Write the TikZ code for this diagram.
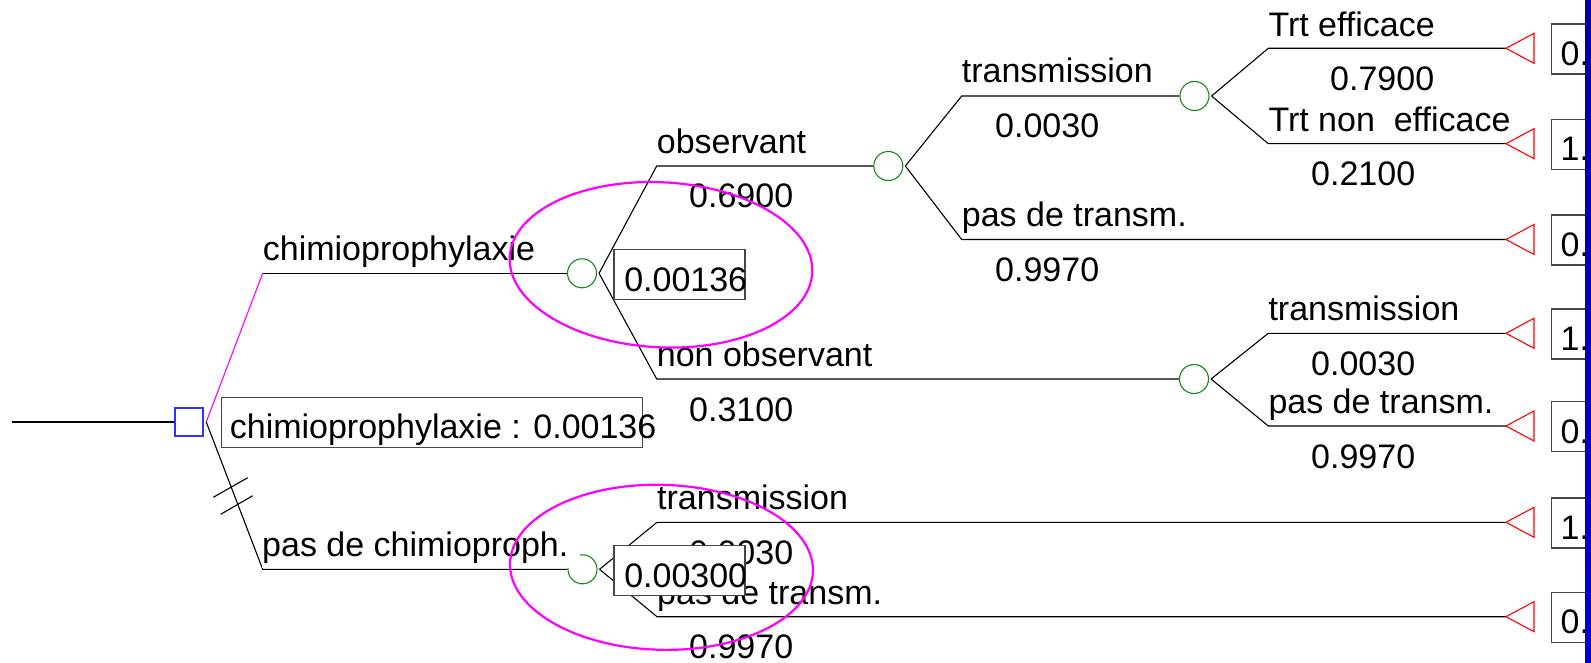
\documentclass[tikz,border=0pt]{standalone}
\usepackage{fontspec}
\setmainfont{Liberation Sans}
\newcommand\treefont{\fontsize{34}{40}\selectfont}
\definecolor{chgreen}{RGB}{20,140,20}
\definecolor{decblue}{RGB}{50,50,255}
\definecolor{boxgray}{RGB}{70,70,70}
\definecolor{bartop}{RGB}{0,0,150}
\definecolor{barbot}{RGB}{0,0,205}
\definecolor{hotmag}{RGB}{255,0,255}
\tikzset{
  ln/.style={line width=1.1pt, draw=black},
  chance/.style={circle, draw=chgreen, line width=1.1pt, minimum size=29pt, inner sep=0pt},
  decision/.style={rectangle, draw=decblue, line width=1.1pt, minimum size=28pt, inner sep=0pt},
  lbl/.style={anchor=base west, inner sep=0pt, font=\treefont},
  valbox/.style={draw=boxgray, line width=1.3pt, fill=white, anchor=north west, inner ysep=0pt, inner xsep=10pt, text height=41.5pt, text depth=8.5pt, font=\treefont},
  termtri/.style={draw=red, line width=1.1pt},
  ring/.style={draw=hotmag, line width=2.2pt},
}
\begin{document}
\begin{tikzpicture}[x=1pt, y=-1pt]
\useasboundingbox (0,0) rectangle (1591,663);
\clip (0,0) rectangle (1591,663);
\fill[white] (0,0) rectangle (1591,663);

% nodes
\coordinate (root) at (12,422);
\node[decision] (d) at (189,422) {};
\node[chance] (c1) at (582,273.3) {};
\node[chance] (c2) at (582.5,569.3) {};
\node[chance] (c3) at (888.3,166) {};
\node[chance] (c4) at (1194,379) {};
\node[chance] (c5) at (1194.5,96) {};

\coordinate (k1) at (262.7,273.3);
\coordinate (k2) at (262.7,569.3);
\coordinate (k3) at (656.7,166);
\coordinate (k4) at (656.7,379);
\coordinate (k5) at (961.7,96);
\coordinate (k6) at (961.7,239.5);
\coordinate (k7) at (1268.3,48.3);
\coordinate (k8) at (1268.3,143.7);
\coordinate (k9) at (1268.3,333.3);
\coordinate (k10) at (1268.3,426);
\coordinate (k11) at (657,522.3);
\coordinate (k12) at (657,616.7);

\coordinate (t1) at (1506,48.3);
\coordinate (t2) at (1506,143.7);
\coordinate (t3) at (1506,239.5);
\coordinate (t4) at (1506,333.3);
\coordinate (t5) at (1506,426);
\coordinate (t6) at (1506,522.3);
\coordinate (t7) at (1506,616.7);

% connectors
\draw[ln] (root) -- (d.west);
\draw[ln, draw=hotmag] ([xshift=2.7pt]d.east) -- (k1);
\draw[ln] (k1) -- (c1.west);
\draw[ln] ([xshift=2.7pt]d.east) -- (k2) -- (c2.west);
\draw[ln] (213.3,497.3) -- (247.7,477.7);
\draw[ln] (220.7,514.3) -- (252.7,495.7);

\draw[ln] ([xshift=2pt]c1.east) -- (k3) -- (c3.west);
\draw[ln] ([xshift=2pt]c1.east) -- (k4) -- (c4.west);
\draw[ln] ([xshift=2pt]c3.east) -- (k5) -- (c5.west);
\draw[ln] ([xshift=2pt]c3.east) -- (k6) -- (t3);
\draw[ln] ([xshift=2pt]c5.east) -- (k7) -- (t1);
\draw[ln] ([xshift=2pt]c5.east) -- (k8) -- (t2);
\draw[ln] ([xshift=2pt]c4.east) -- (k9) -- (t4);
\draw[ln] ([xshift=2pt]c4.east) -- (k10) -- (t5);
\draw[ln] ([xshift=2pt]c2.east) -- (k11) -- (t6);
\draw[ln] ([xshift=2pt]c2.east) -- (k12) -- (t7);

% terminal triangles
\foreach \t in {t1,t2,t3,t4,t5,t6,t7}
  \draw[termtri] (\t) -- ++(28,-15) -- ++(0,30) -- cycle;

% branch labels
\node[lbl] (l1) at (262.7,260.8) {chimioprophylaxie};
\node[lbl, fill=white, text depth=10.8pt] (l2) at (262,556.7) {\makebox[318pt][l]{pas de chimioproph.}};
\node[lbl] (l3) at (656.7,153.5) {observant};
\node[lbl] (p3) at (689,208) {0.6900};
\node[lbl] (l4) at (656.7,366.7) {non observant};
\node[lbl] (p4) at (689,421) {0.3100};
\node[lbl] (l5) at (961.7,83) {transmission};
\node[lbl] (p5) at (995,137.5) {0.0030};
\node[lbl] (l6) at (961.7,227) {pas de transm.};
\node[lbl] (p6) at (995,281) {0.9970};
\node[lbl] (l7) at (1268.3,36.5) {Trt efficace};
\node[lbl] (p7) at (1330,90.3) {0.7900};
\node[lbl] (l8) at (1268.3,131.2) {Trt non\ \ efficace};
\node[lbl] (p8) at (1311,185.7) {0.2100};
\node[lbl] (l9) at (1268.3,320.3) {transmission};
\node[lbl] (p9) at (1311,375) {0.0030};
\node[lbl] (l10) at (1268.3,413.5) {pas de transm.};
\node[lbl] (p10) at (1311,468) {0.9970};
\node[lbl] (l11) at (657,509.8) {transmission};
\node[lbl] (p11) at (689,564) {0.0030};
\node[lbl] (l12) at (657,604.2) {pas de transm.};
\node[lbl] (p12) at (689,658.5) {0.9970};

% value boxes
\node[valbox, inner xsep=8.5pt] (b0) at (220.7,396.7) {\makebox[404pt][l]{chimioprophylaxie : 0.00136}};
\node[valbox, inner xsep=10.3pt] (b1) at (613.3,249) {\makebox[110.4pt][l]{0.00136}};
\node[valbox, inner xsep=10.3pt] (b2) at (613.3,545) {\makebox[110.4pt][l]{0.00300}};
\foreach \t/\v in {t1/0.,t2/1.,t3/0.,t4/1.,t5/0.,t6/1.,t7/0.}
  \node[valbox, inner xsep=9pt] (v\t) at ([xshift=45pt,yshift=25pt]\t) {\makebox[60pt][l]{\v}};

% highlight ellipses
\draw[ring, rotate around={-3:(661,264.8)}] (661,264.8) ellipse [x radius=151.5pt, y radius=82.5pt];
\draw[ring, rotate around={-1.5:(661.5,567.3)}] (661.5,567.3) ellipse [x radius=151.5pt, y radius=82.5pt];

% right bar
\shade[top color=bartop, bottom color=barbot] (1585,0) rectangle (1591,663);
\end{tikzpicture}
\end{document}
